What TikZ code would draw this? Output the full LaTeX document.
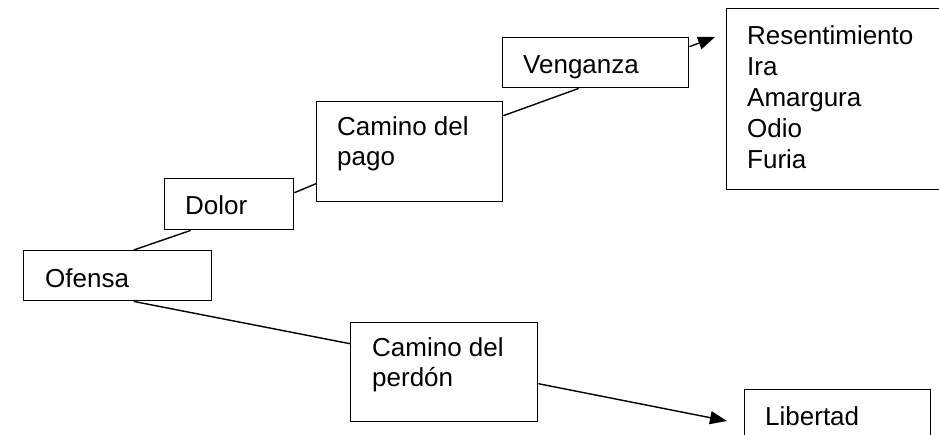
\documentclass[tikz,border=0pt]{standalone}
\usepackage{fontspec}
\setmainfont{Liberation Sans}
\usetikzlibrary{arrows.meta}

\tikzset{
  box/.style={draw, line width=1.4pt, anchor=north west, inner sep=0pt},
  txt/.style={anchor=base west, inner sep=0pt, align=left, font=\fontsize{26}{30}\selectfont},
  link/.style={line width=1.4pt},
  arrow/.style={line width=1.4pt, -{Triangle[length=17pt, width=13pt]}}
}

\begin{document}
\begin{tikzpicture}[x=1pt, y=-1pt]
\useasboundingbox (0, 0) rectangle (939, 434);
\clip (0, 0) rectangle (939, 434);
% boxes
\node [box, minimum width=188, minimum height=50] (ofensa) at (23, 250) {};
\node [box, minimum width=129, minimum height=51] (dolor) at (164, 178) {};
\node [box, minimum width=186, minimum height=100] (pago) at (316, 101) {};
\node [box, minimum width=186, minimum height=50] (venganza) at (502, 37) {};
\node [box, minimum width=240, minimum height=181] (lista) at (726, 8) {};
\node [box, minimum width=187, minimum height=99] (perdon) at (350, 322) {};
\node [box, minimum width=186, minimum height=70] (libertad) at (744, 389) {};
% texts
\node [txt] (ofensa-t) at (45, 287) {Ofensa};
\node [txt] (dolor-t) at (185, 214) {Dolor};
\node [txt] (pago-t) at (337, 165) {Camino del\\pago};
\node [txt] (venganza-t) at (523, 73) {Venganza};
\node [txt, font=\fontsize{26}{31}\selectfont] (lista-t) at (747, 168) {Resentimiento\\Ira\\Amargura\\Odio\\Furia};
\node [txt] (perdon-t) at (372, 386) {Camino del\\perd\'on};
\node [txt] (libertad-t) at (765, 425) {Libertad};
% connectors
\coordinate (to-lista) at (715, 37);
\coordinate (to-libertad) at (727, 421);
\draw [link] ([xshift=16pt]ofensa.north) -- ([xshift=-38.5pt]dolor.south);
\draw [link] ([yshift=11.5pt]dolor.east) -- ([yshift=-32pt]pago.west);
\draw [link] ([yshift=36pt]pago.east) -- ([xshift=-17pt]venganza.south);
\draw [arrow] ([yshift=16pt]venganza.east) -- (to-lista);
\draw [link] ([xshift=16pt]ofensa.south) -- ([yshift=28.5pt]perdon.west);
\draw [arrow] ([yshift=-11.5pt]perdon.east) -- (to-libertad);
\end{tikzpicture}
\end{document}
